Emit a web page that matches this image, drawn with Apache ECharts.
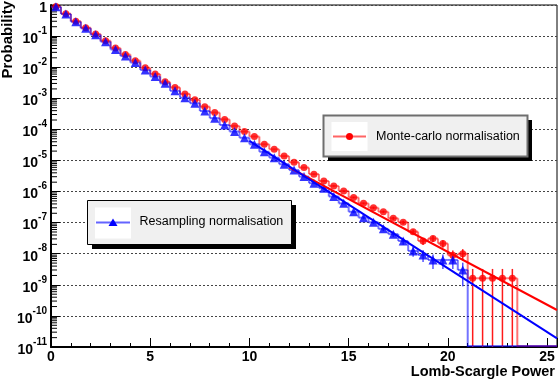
<!DOCTYPE html>
<html>
<head>
<meta charset="utf-8">
<script src="https://cdn.jsdelivr.net/npm/echarts@6/dist/echarts.min.js"></script>
<style>
  html, body { margin: 0; padding: 0; background: #fff; }
  #chart { width: 558px; height: 381px; }
</style>
</head>
<body>
<div id="chart"></div>
<script>
// bins of Lomb-Scargle power, width 0.5, given by their centres
const binWidth = 0.5
const mcPower = [
  0.25, 0.75, 1.25, 1.75, 2.25, 2.75, 3.25, 3.75, 4.25, 4.75,
  5.25, 5.75, 6.25, 6.75, 7.25, 7.75, 8.25, 8.75, 9.25, 9.75,
  10.25, 10.75, 11.25, 11.75, 12.25, 12.75, 13.25, 13.75, 14.25, 14.75,
  15.25, 15.75, 16.25, 16.75, 17.25, 17.75, 18.25, 18.75, 19.25, 19.75,
  20.25, 20.75, 21.25, 21.75, 22.25, 22.75, 23.25
]
// log10 of probability, Monte-carlo normalisation
const mcLog10Prob = [
  -0.05, -0.28, -0.52, -0.73, -0.93, -1.15, -1.38, -1.59, -1.79, -2.02,
  -2.22, -2.47, -2.65, -2.86, -3.05, -3.27, -3.46, -3.68, -3.89, -4.07,
  -4.23, -4.48, -4.64, -4.86, -5.06, -5.23, -5.44, -5.66, -5.82, -5.98,
  -6.19, -6.38, -6.52, -6.65, -6.86, -6.99, -7.29, -7.59, -7.51, -7.67,
  -8.05, -8.00, -8.79, -8.79, -8.79, -8.79, -8.79
]
const rsPower = [
  0.25, 0.75, 1.25, 1.75, 2.25, 2.75, 3.25, 3.75, 4.25, 4.75,
  5.25, 5.75, 6.25, 6.75, 7.25, 7.75, 8.25, 8.75, 9.25, 9.75,
  10.25, 10.75, 11.25, 11.75, 12.25, 12.75, 13.25, 13.75, 14.25, 14.75,
  15.25, 15.75, 16.25, 16.75, 17.25, 17.75, 18.25, 18.75, 19.25, 19.75,
  20.25, 20.75
]
// log10 of probability, Resampling normalisation
const rsLog10Prob = [
  -0.06, -0.29, -0.54, -0.75, -0.96, -1.18, -1.43, -1.64, -1.85, -2.09,
  -2.30, -2.52, -2.76, -2.98, -3.16, -3.41, -3.64, -3.86, -4.07, -4.27,
  -4.48, -4.72, -4.91, -5.12, -5.31, -5.52, -5.73, -5.89, -6.16, -6.38,
  -6.65, -6.84, -6.99, -7.20, -7.37, -7.59, -7.91, -8.04, -8.20, -8.20,
  -8.20, -8.52
]
// probability carried by a single count (sets the Poisson error bars)
const mcUnit = 1.62e-9
const rsUnit = 1.5e-9
// exponential fits: log10 P = a + b * power, drawn over range
const mcFit = { a: -1.14, b: -0.34, range: [12, 25.5] }
const rsFit = { a: -0.27, b: -0.41, range: [10, 25.5] }

const xMin = 0, xMax = 25.5
const yMin = 1e-11, yMax = 1
const font = '"Liberation Sans", Arial, Helvetica, sans-serif'

const mcProb = mcLog10Prob.map(v => Math.pow(10, v))
const rsProb = rsLog10Prob.map(v => Math.pow(10, v))

function stepSeries(xs, ps, color) {
  return {
    type: 'custom',
    silent: true,
    clip: true,
    data: xs.map((x, i) => [x, ps[i]]),
    renderItem(params, api) {
      const i = params.dataIndex
      const x = api.value(0), p = api.value(1)
      const half = binWidth / 2
      const l = api.coord([x - half, p]), r = api.coord([x + half, p])
      const st = { stroke: color, lineWidth: 2 }
      const kids = [{ type: 'line', shape: { x1: l[0], y1: l[1], x2: r[0], y2: r[1] }, style: st }]
      if (i > 0) {
        const prev = api.coord([x - half, ps[i - 1]])
        kids.push({ type: 'line', shape: { x1: prev[0], y1: prev[1], x2: l[0], y2: l[1] }, style: st })
      }
      if (i === xs.length - 1) {
        const b = api.coord([x + half, yMin]), e = api.coord([xMax, yMin])
        kids.push({ type: 'line', shape: { x1: r[0], y1: r[1], x2: b[0], y2: b[1] }, style: st })
        kids.push({ type: 'line', shape: { x1: b[0], y1: b[1] - 1, x2: e[0], y2: e[1] - 1 }, style: st })
      }
      return { type: 'group', children: kids }
    }
  }
}

function errorSeries(xs, ps, unit, color) {
  return {
    type: 'custom',
    silent: true,
    clip: true,
    data: xs.map((x, i) => [x, ps[i]]),
    renderItem(params, api) {
      const x = api.value(0), p = api.value(1)
      const err = Math.sqrt(p * unit)
      const top = api.coord([x, p + err])
      const bot = api.coord([x, Math.max(p - err, yMin)])
      return {
        type: 'line',
        shape: { x1: top[0], y1: top[1], x2: bot[0], y2: bot[1] },
        style: { stroke: color, lineWidth: 1.5 }
      }
    }
  }
}

function fitData(f) {
  return f.range.map(x => [x, Math.pow(10, f.a + f.b * x)])
}

// log minor ticks on the y axis (2..9 in every decade)
const minorY = []
for (let d = -11; d < 0; d++) {
  for (let k = 2; k <= 9; k++) minorY.push([xMin, k * Math.pow(10, d)])
}

const chart = echarts.init(document.getElementById('chart'))
chart.setOption({
  animation: false,
  grid: {
    left: 51, right: 1, top: 5, bottom: 34,
    show: true, borderColor: '#000', borderWidth: 1
  },
  xAxis: {
    type: 'value',
    min: xMin, max: xMax, interval: 5,
    axisLine: { lineStyle: { color: '#000', width: 2 } },
    axisTick: { inside: true, length: 9, lineStyle: { color: '#000', width: 1 } },
    minorTick: { show: true, splitNumber: 5, length: 4, lineStyle: { color: '#000', width: 1 } },
    splitLine: { show: false },
    axisLabel: {
      margin: 3, showMaxLabel: false,
      color: '#000', fontSize: 14, fontWeight: 'bold', fontFamily: font
    }
  },
  yAxis: {
    type: 'log', logBase: 10,
    min: yMin, max: yMax, interval: 1,
    axisLine: { lineStyle: { color: '#000', width: 2 } },
    axisTick: { inside: true, length: 9, lineStyle: { color: '#000', width: 1 } },
    splitLine: { show: true, lineStyle: { color: '#444', width: 1, type: [2, 2] } },
    axisLabel: {
      margin: 4,
      formatter: v => {
        const e = Math.round(Math.log10(v))
        return e === 0 ? '{b|1}' : '{b|10}{s|' + e + '}'
      },
      rich: {
        b: { fontSize: 14, fontWeight: 'bold', fontFamily: font, color: '#000', lineHeight: 20, verticalAlign: 'bottom' },
        s: { fontSize: 10, fontWeight: 'bold', fontFamily: font, color: '#000', lineHeight: 10, verticalAlign: 'top' }
      }
    }
  },
  series: [
    {
      type: 'custom', silent: true, clip: true,
      data: minorY,
      renderItem(params, api) {
        const c = api.coord([api.value(0), api.value(1)])
        return { type: 'line', shape: { x1: c[0], y1: c[1], x2: c[0] + 6, y2: c[1] }, style: { stroke: '#000', lineWidth: 1 } }
      }
    },
    stepSeries(mcPower, mcProb, 'rgba(255,0,0,0.55)'),
    errorSeries(mcPower, mcProb, mcUnit, '#ff1a1a'),
    {
      type: 'scatter', silent: true,
      data: mcPower.map((x, i) => [x, mcProb[i]]),
      symbol: 'circle', symbolSize: 7,
      itemStyle: { color: '#ff0000' }
    },
    stepSeries(rsPower, rsProb, 'rgba(0,0,255,0.55)'),
    errorSeries(rsPower, rsProb, rsUnit, 'rgba(40,40,255,0.8)'),
    {
      type: 'scatter', silent: true,
      data: rsPower.map((x, i) => [x, rsProb[i]]),
      symbol: 'triangle', symbolSize: 9,
      itemStyle: { color: '#0000ff' }
    },
    {
      type: 'line', silent: true, symbol: 'none',
      data: fitData(mcFit),
      lineStyle: { color: '#ff0000', width: 2 }
    },
    {
      type: 'line', silent: true, symbol: 'none',
      data: fitData(rsFit),
      lineStyle: { color: '#0000ff', width: 2 }
    }
  ],
  graphic: [
    {
      type: 'text', x: 8, y: 1, rotation: Math.PI / 2, z: 100,
      style: { text: 'Probability', font: 'bold 15px ' + font, fill: '#000', align: 'right', verticalAlign: 'middle' }
    },
    {
      type: 'text', x: 555, y: 372, z: 100,
      style: { text: 'Lomb-Scargle Power', font: 'bold 14.5px ' + font, fill: '#000', align: 'right', verticalAlign: 'middle' }
    },
    // Monte-carlo legend box
    { type: 'rect', z: 100, shape: { x: 328, y: 120, width: 204, height: 41 }, style: { fill: '#000' } },
    { type: 'rect', z: 101, shape: { x: 323.5, y: 115.5, width: 204, height: 41 }, style: { fill: '#f0f0f0', stroke: '#6e6e6e', lineWidth: 2 } },
    { type: 'rect', z: 102, shape: { x: 331.5, y: 122, width: 36, height: 29 }, style: { fill: '#fff' } },
    { type: 'line', z: 103, shape: { x1: 333, y1: 136.5, x2: 366, y2: 136.5 }, style: { stroke: '#ff6464', lineWidth: 2 } },
    { type: 'circle', z: 104, shape: { cx: 349.5, cy: 136.5, r: 3.5 }, style: { fill: '#ff0000' } },
    {
      type: 'text', x: 376, y: 137, z: 104,
      style: { text: 'Monte-carlo normalisation', font: '12.5px ' + font, fill: '#000', verticalAlign: 'middle' }
    },
    // Resampling legend box
    { type: 'rect', z: 100, shape: { x: 92, y: 205, width: 204, height: 44 }, style: { fill: '#000' } },
    { type: 'rect', z: 101, shape: { x: 87.5, y: 200.5, width: 204, height: 44 }, style: { fill: '#f0f0f0', stroke: '#000', lineWidth: 1 } },
    { type: 'rect', z: 102, shape: { x: 95, y: 207.5, width: 36, height: 31 }, style: { fill: '#fff' } },
    { type: 'line', z: 103, shape: { x1: 96, y1: 222.5, x2: 130, y2: 222.5 }, style: { stroke: '#6464ff', lineWidth: 2 } },
    { type: 'polygon', z: 104, shape: { points: [[108.5, 226], [117.5, 226], [113, 218.5]] }, style: { fill: '#0000ff' } },
    {
      type: 'text', x: 139.5, y: 222, z: 104,
      style: { text: 'Resampling normalisation', font: '12.5px ' + font, fill: '#000', verticalAlign: 'middle' }
    }
  ]
})
</script>
</body>
</html>
